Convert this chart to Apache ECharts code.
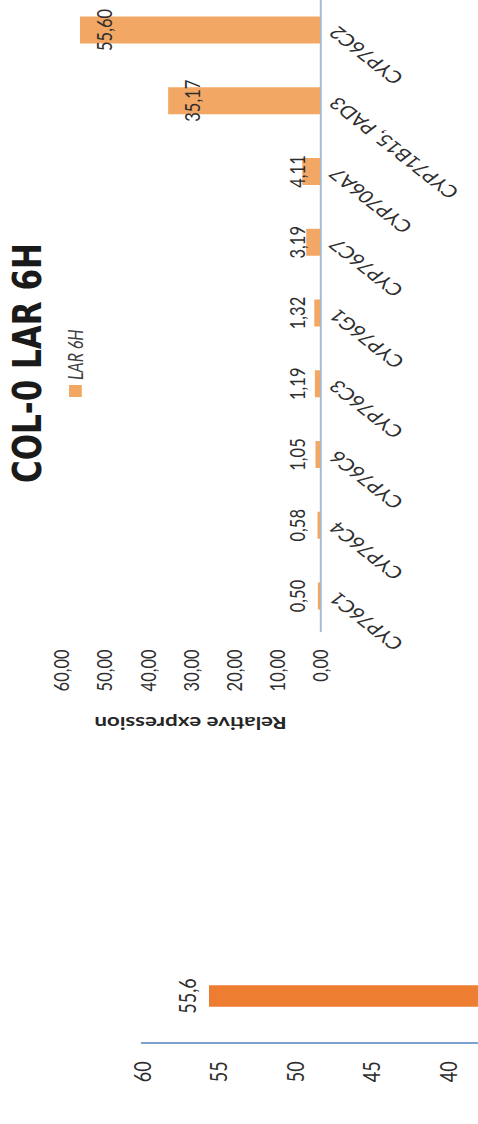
<!DOCTYPE html>
<html>
<head>
<meta charset="utf-8">
<script src="https://cdn.jsdelivr.net/npm/echarts@6/dist/echarts.min.js"></script>
<style>
  html, body { margin: 0; padding: 0; background: #ffffff; width: 478px; height: 1124px; overflow: hidden; }
  /* The figure is laid out landscape, stretched vertically, then turned a quarter turn counter-clockwise. */
  #chart {
    position: absolute; left: 0; top: 0;
    width: 1124px; height: 374px;
    transform-origin: 0 0;
    transform: translate(0, 1124px) rotate(-90deg) scale(1, 1.278);
  }
</style>
</head>
<body>
<div id="chart"></div>
<script>
// Main chart: COL-0 LAR 6H relative expression per gene
const categories = ['CYP76C1', 'CYP76C4', 'CYP76C6', 'CYP76C3', 'CYP76G1', 'CYP76C7', 'CYP706A7', 'CYP71B15, PAD3', 'CYP76C2'];
const values = [0.50, 0.58, 1.05, 1.19, 1.32, 3.19, 4.11, 35.17, 55.60];
const seriesName = 'LAR 6H';
const valueMin = 0, valueMax = 60, valueStep = 10;

// Neighbouring chart (only its top part is in view)
const sideCategories = ['CYP76C2'];
const sideValues = [55.6];
const sideMin = 0, sideMax = 60, sideStep = 5;
const sideTickLabels = [40, 45, 50, 55, 60];

const comma = (v, d) => Number(v).toFixed(d).replace('.', ',');
const FONT = 'Lato';
const TEXT = '#2e2e2e';

const chart = echarts.init(document.getElementById('chart'), null, { renderer: 'svg' });

chart.setOption({
  animation: false,
  backgroundColor: '#ffffff',
  title: {
    text: 'COL-0 LAR 6H',
    left: 636,
    top: 1,
    textStyle: { fontFamily: 'DejaVu Sans', fontWeight: 'bold', fontSize: 31, color: '#1a1a1a' }
  },
  legend: {
    data: [seriesName],
    left: 722,
    top: 46,
    icon: 'rect',
    itemWidth: 12,
    itemHeight: 10,
    itemGap: 6,
    textStyle: { fontFamily: FONT, fontStyle: 'italic', fontSize: 16, color: '#404040' }
  },
  grid: [
    { left: 492.6, right: -5.4, top: 47.7, bottom: 123.6, outerBoundsMode: 'none' },
    { left: 80.7, width: 94.6, top: 110.9, bottom: -455, outerBoundsMode: 'none' }
  ],
  xAxis: [
    {
      type: 'category', gridIndex: 0, data: categories,
      axisLine: { lineStyle: { color: '#a3bad2', width: 1.5 } },
      axisTick: { show: false },
      axisLabel: { interval: 0, rotate: 45, margin: 10, fontFamily: FONT, fontSize: 17, color: TEXT }
    },
    { type: 'category', gridIndex: 1, data: sideCategories, show: false }
  ],
  yAxis: [
    {
      type: 'value', gridIndex: 0, min: valueMin, max: valueMax, interval: valueStep,
      name: 'Relative expression', nameLocation: 'middle', nameGap: 84,
      nameTextStyle: { fontFamily: FONT, fontWeight: 'bold', fontSize: 17.5, color: '#262626' },
      axisLine: { show: false }, axisTick: { show: false }, splitLine: { show: false },
      axisLabel: { margin: 18, fontFamily: FONT, fontSize: 16.5, color: TEXT, formatter: v => comma(v, 2) }
    },
    {
      type: 'value', gridIndex: 1, min: sideMin, max: sideMax, interval: sideStep,
      axisLine: { show: true, lineStyle: { color: '#4f81bd', width: 1.5 } },
      axisTick: { show: false }, splitLine: { show: false },
      axisLabel: { customValues: sideTickLabels, margin: 18, fontFamily: FONT, fontSize: 18, color: TEXT, formatter: v => String(v) }
    }
  ],
  series: [
    {
      name: seriesName, type: 'bar', xAxisIndex: 0, yAxisIndex: 0,
      barWidth: 27,
      itemStyle: { color: '#f2a764' },
      data: values.map(v => ({ value: v, label: { position: v > 10 ? 'insideTop' : 'insideBottom' } })),
      label: { show: true, distance: 10, fontFamily: FONT, fontSize: 16.5, color: TEXT, formatter: p => comma(p.value, 2) }
    },
    {
      name: 'side', type: 'bar', xAxisIndex: 1, yAxisIndex: 1,
      barWidth: 21.7,
      itemStyle: { color: '#ed7d31' },
      data: sideValues,
      label: { show: true, position: 'top', distance: 8, fontFamily: FONT, fontSize: 18, color: TEXT, formatter: p => comma(p.value, 1) }
    }
  ]
});
</script>
</body>
</html>
